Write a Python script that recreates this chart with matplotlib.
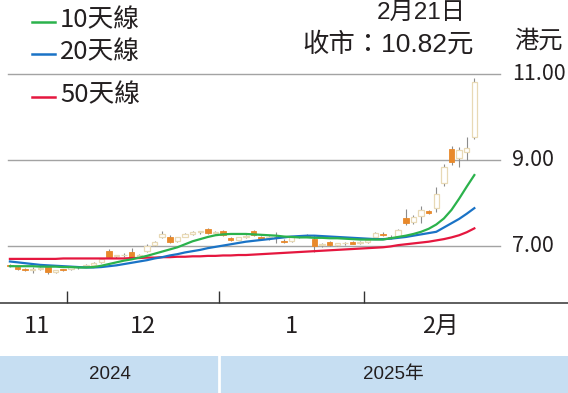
import numpy as np
import matplotlib
matplotlib.use('Agg')
import matplotlib.pyplot as plt
from matplotlib.lines import Line2D

# フォント（数字は細め、漢字はCJK）
narrow = ['Liberation Sans Narrow', 'Noto Sans CJK TC', 'DejaVu Sans']
regular = ['Liberation Sans', 'Noto Sans CJK TC', 'DejaVu Sans']
plt.rcParams['font.family'] = narrow

# 月ごとの取引日数と表示ラベル
month_labels = ['11', '12', '1', '2月']
month_days = [8, 20, 19, 15]
feb_full_days = 20          # 2月ラベル位置用（1か月分）
year_labels = ['2024', '2025年']
year_month_count = [2, 2]

# ローソク足（始値・高値・安値・終値）
opens = [6.55, 6.52, 6.46, 6.45, 6.46, 6.52, 6.40, 6.45, 6.46, 6.50,
         6.53, 6.56, 6.62, 6.89, 6.76, 6.78, 6.86, 6.75, 6.88, 7.02,
         7.20, 7.22, 7.12, 7.22, 7.28, 7.32, 7.39, 7.30, 7.36, 7.19,
         7.15, 7.20, 7.36, 7.22, 7.18, 7.22, 7.12, 7.12, 7.20, 7.24,
         7.16, 7.02, 7.10, 7.03, 7.06, 7.09, 7.06, 7.10, 7.20, 7.28,
         7.22, 7.24, 7.64, 7.55, 7.70, 7.81, 7.88, 8.46, 9.25, 9.04,
         9.19, 9.54]
highs = [6.58, 6.54, 6.48, 6.50, 6.50, 6.53, 6.45, 6.47, 6.52, 6.54,
         6.58, 6.62, 6.72, 6.92, 6.80, 6.84, 6.95, 6.82, 7.05, 7.12,
         7.35, 7.25, 7.22, 7.30, 7.35, 7.36, 7.42, 7.34, 7.38, 7.22,
         7.22, 7.26, 7.38, 7.24, 7.24, 7.33, 7.16, 7.22, 7.26, 7.28,
         7.26, 7.08, 7.12, 7.08, 7.10, 7.11, 7.12, 7.16, 7.32, 7.32,
         7.25, 7.40, 7.85, 7.72, 7.93, 7.83, 8.38, 8.90, 9.32, 9.30,
         9.54, 10.90]
lows = [6.50, 6.44, 6.42, 6.38, 6.43, 6.36, 6.38, 6.42, 6.44, 6.47,
        6.50, 6.54, 6.60, 6.72, 6.72, 6.74, 6.70, 6.72, 6.86, 7.00,
        7.18, 7.08, 7.10, 7.20, 7.26, 7.28, 7.29, 7.27, 7.24, 7.12,
        7.13, 7.18, 7.24, 7.15, 7.15, 7.07, 7.08, 7.10, 7.18, 7.20,
        6.87, 6.98, 7.00, 7.00, 7.03, 7.04, 7.04, 7.08, 7.18, 7.24,
        7.17, 7.22, 7.49, 7.52, 7.53, 7.74, 7.80, 8.40, 8.88, 8.84,
        9.00, 9.50]
closes = [6.53, 6.47, 6.45, 6.46, 6.48, 6.39, 6.43, 6.44, 6.50, 6.52,
          6.55, 6.60, 6.70, 6.75, 6.78, 6.80, 6.73, 6.80, 7.00, 7.10,
          7.28, 7.10, 7.20, 7.28, 7.32, 7.33, 7.31, 7.32, 7.26, 7.14,
          7.20, 7.24, 7.26, 7.17, 7.22, 7.20, 7.10, 7.20, 7.24, 7.22,
          7.01, 7.05, 7.02, 7.06, 7.08, 7.05, 7.10, 7.14, 7.30, 7.26,
          7.19, 7.38, 7.53, 7.68, 7.84, 7.76, 8.22, 8.84, 8.96, 9.23,
          9.28, 10.82]

# 移動平均線
ma10 = [6.53, 6.53, 6.53, 6.53, 6.52, 6.52, 6.52, 6.51, 6.51, 6.50,
        6.50, 6.51, 6.54, 6.58, 6.62, 6.66, 6.69, 6.73, 6.77, 6.82,
        6.87, 6.92, 6.97, 7.04, 7.11, 7.16, 7.21, 7.25, 7.27, 7.28,
        7.28, 7.28, 7.27, 7.26, 7.25, 7.24, 7.22, 7.21, 7.20, 7.20,
        7.19, 7.19, 7.18, 7.18, 7.17, 7.16, 7.15, 7.15, 7.15, 7.15,
        7.18, 7.21, 7.24, 7.28, 7.33, 7.40, 7.50, 7.64, 7.84, 8.10,
        8.38, 8.65]
ma20 = [6.64, 6.62, 6.60, 6.58, 6.56, 6.55, 6.54, 6.53, 6.52, 6.51,
        6.50, 6.50, 6.51, 6.53, 6.55, 6.58, 6.61, 6.64, 6.67, 6.71,
        6.74, 6.78, 6.81, 6.85, 6.88, 6.91, 6.95, 6.98, 7.01, 7.04,
        7.07, 7.10, 7.12, 7.14, 7.16, 7.18, 7.20, 7.22, 7.23, 7.24,
        7.24, 7.23, 7.22, 7.21, 7.20, 7.19, 7.18, 7.17, 7.16, 7.16,
        7.17, 7.19, 7.21, 7.24, 7.27, 7.30, 7.33, 7.43, 7.53, 7.63,
        7.75, 7.88]
ma50 = [6.70, 6.70, 6.70, 6.70, 6.70, 6.70, 6.70, 6.71, 6.71, 6.71,
        6.71, 6.71, 6.71, 6.71, 6.71, 6.71, 6.72, 6.72, 6.73, 6.73,
        6.74, 6.74, 6.75, 6.75, 6.76, 6.76, 6.77, 6.77, 6.78, 6.78,
        6.79, 6.79, 6.80, 6.81, 6.82, 6.83, 6.84, 6.85, 6.86, 6.87,
        6.88, 6.89, 6.90, 6.91, 6.92, 6.93, 6.94, 6.95, 6.96, 6.97,
        6.99, 7.02, 7.04, 7.06, 7.08, 7.10, 7.13, 7.16, 7.20, 7.25,
        7.32, 7.41]

yticks = [7.00, 9.00, 11.00]

c10, c20, c50 = '#2bb24c', '#1a73c6', '#e5173f'
up_edge, down_col, wick_col = '#e8d9b5', '#e8892b', '#8c8c8c'
txt = '#231f20'

W, H = 568, 393
fig = plt.figure(figsize=(W / 100, H / 100), dpi=100)
ax = fig.add_axes([0, 90 / H, 1, 238 / H])

x = np.arange(len(closes))
o, h, l, c = map(np.array, (opens, highs, lows, closes))
up = c >= o

# ひげ
ax.vlines(x, l, h, color=wick_col, lw=0.8, zorder=2)
# 実体
body_lo = np.minimum(o, c)
body_h = np.maximum(np.abs(c - o), 0.02)
ax.bar(x[up], body_h[up], bottom=body_lo[up], width=0.72, color='white',
       edgecolor=up_edge, lw=0.9, zorder=3)
ax.bar(x[~up], body_h[~up], bottom=body_lo[~up], width=0.72, color=down_col,
       edgecolor=down_col, lw=0.6, zorder=3)

ax.plot(x, ma50, color=c50, lw=1.6, zorder=4)
ax.plot(x, ma20, color=c20, lw=1.6, zorder=4)
ax.plot(x, ma10, color=c10, lw=1.6, zorder=4)

# 横線
for v in yticks:
    ax.axhline(v, xmin=8 / W, xmax=500 / W, color='#a3a3a3', lw=1, zorder=1)
    ax.text(512 / W, v, f'{v:.2f}', transform=ax.get_yaxis_transform(),
            ha='left', va='center', fontsize=15.5, color=txt)

ax.set_xlim(-1.3, 73.3)
ax.set_ylim(5.674, 11.21)
for s in ['top', 'left', 'right']:
    ax.spines[s].set_visible(False)
ax.spines['bottom'].set_color('#333333')
ax.spines['bottom'].set_linewidth(1.1)
ax.set_yticks([])

bounds = np.cumsum(month_days)[:-1] - 0.5
ax.set_xticks(bounds)
ax.set_xticklabels([])
ax.tick_params(axis='x', direction='in', length=9, width=1, color='#333333')

starts = np.concatenate([[-0.5], bounds])
ends = np.concatenate([bounds, [bounds[-1] + feb_full_days]])
for lab, s0, e0 in zip(month_labels, starts, ends):
    ax.text((s0 + e0) / 2, -0.10, lab, transform=ax.get_xaxis_transform(),
            ha='center', va='center', fontsize=17, color=txt)

# 年の帯
bx = fig.add_axes([0, 0, 1, 37 / H])
bx.set_xlim(ax.get_xlim())
bx.set_ylim(0, 1)
bx.axis('off')
ybound = bounds[year_month_count[0] - 1]
yspans = [(-1.3, ybound), (ybound, 73.3)]
for lab, (a0, a1) in zip(year_labels, yspans):
    bx.axvspan(a0, a1, color='#c6def2', lw=0)
    bx.text((a0 + a1) / 2, 0.5, lab, ha='center', va='center', fontsize=13.5,
            color=txt, family=regular)
bx.axvline(ybound, color='white', lw=2)

# 凡例
for yy, col, lab in [(20, c10, '10天線'), (52, c20, '20天線'), (95, c50, '50天線')]:
    fig.add_artist(Line2D([32 / W, 55 / W], [1 - (yy + 2) / H] * 2, color=col, lw=1.8))
    fig.text(60 / W, 1 - yy / H, lab, ha='left', va='center', fontsize=18.5, color=txt)

fig.text(466 / W, 1 - 13 / H, '2月21日', ha='right', va='center', fontsize=17.5,
         color=txt, family=regular)
fig.text(474 / W, 1 - 44 / H, '收市：10.82元', ha='right', va='center', fontsize=19,
         color=txt, family=regular)
fig.text(514 / W, 1 - 41 / H, '港元', ha='left', va='center', fontsize=17.5, color=txt)

fig.savefig('out.png', dpi=100)
